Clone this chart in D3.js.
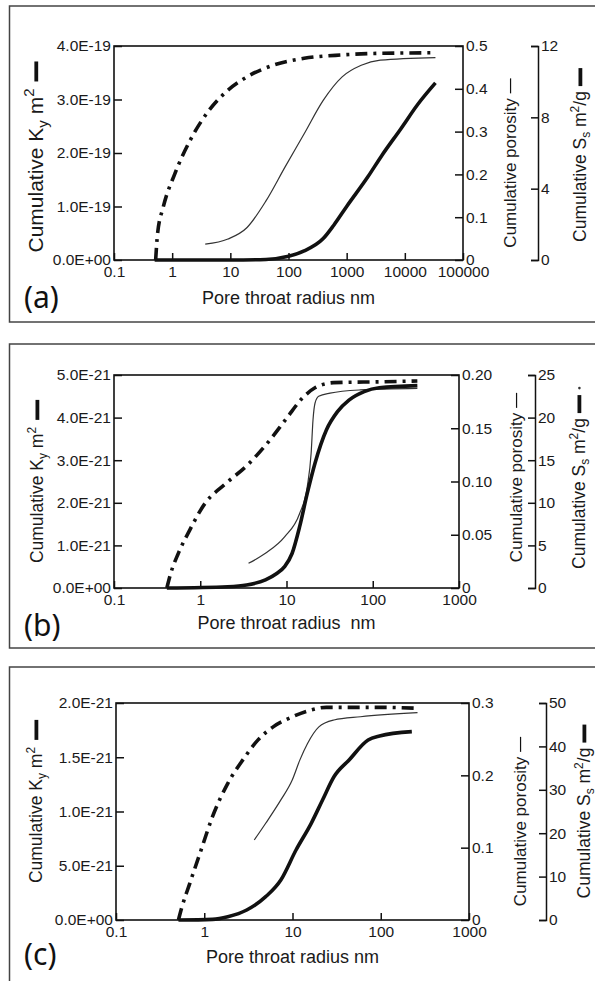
<!DOCTYPE html>
<html>
<head>
<meta charset="utf-8">
<title>Cumulative Ky, porosity and Ss vs pore throat radius</title>
<script src="https://cdn.jsdelivr.net/npm/d3@7"></script>
<style>
body { margin: 0; background: #fff; }
svg { display: block; }
.tick text { font: 15.5px "Liberation Sans", Arial, sans-serif; fill: #1a1a1a; }
.tick line, .domain { stroke: #111; stroke-width: 1.5px; }
.title { font: 17.5px "Liberation Sans", Arial, sans-serif; fill: #1a1a1a; }
.tag { font: 30px "Noto Sans", sans-serif; fill: #111; }
.frame { fill: none; stroke: #444; stroke-width: 1.5px; }
.box { fill: none; stroke: #111; stroke-width: 1.6px; }
.mark { stroke: #111; }
</style>
</head>
<body>
<svg width="595" height="981"></svg>
<script>

// ---- panel (a) ----
var xTicksA = [0.1, 1, 10, 100, 1000, 10000, 100000];
var xLabelsA = ["0.1", "1", "10", "100", "1000", "10000", "100000"];
var kyTicksA = [0, 1e-19, 2e-19, 3e-19, 4e-19];
var kyLabelsA = ["0.0E+00", "1.0E-19", "2.0E-19", "3.0E-19", "4.0E-19"];
var porTicksA = [0, 0.1, 0.2, 0.3, 0.4, 0.5];
var porLabelsA = ["0", "0.1", "0.2", "0.3", "0.4", "0.5"];
var ssTicksA = [0, 4, 8, 12];
// [radius nm, value]
var kyA = [[0.5,0],[10,0],[41,0.01e-19],[100,0.07e-19],[186,0.17e-19],[395,0.40e-19],[600,0.65e-19],[1000,1.0e-19],[2300,1.55e-19],[4000,1.95e-19],[8500,2.45e-19],[17000,2.92e-19],[33600,3.31e-19]];
var porA = [[3.7,0.037],[9.1,0.049],[19.4,0.076],[41,0.138],[87,0.217],[186,0.295],[395,0.373],[836,0.428],[1780,0.455],[3780,0.467],[33600,0.473]];
var ssA = [[0.52,0],[0.56,1.45],[0.70,2.95],[1.11,4.83],[2.03,6.70],[4.3,8.39],[9.1,9.52],[19.4,10.27],[55.6,10.93],[186,11.31],[836,11.5],[3780,11.59],[33600,11.62]];

// ---- panel (b) ----
var xTicksB = [0.1, 1, 10, 100, 1000];
var xLabelsB = ["0.1", "1", "10", "100", "1000"];
var kyTicksB = [0, 1e-21, 2e-21, 3e-21, 4e-21, 5e-21];
var kyLabelsB = ["0.0E+00", "1.0E-21", "2.0E-21", "3.0E-21", "4.0E-21", "5.0E-21"];
var porTicksB = [0, 0.05, 0.10, 0.15, 0.20];
var porLabelsB = ["0", "0.05", "0.10", "0.15", "0.20"];
var ssTicksB = [0, 5, 10, 15, 20, 25];
var kyB = [[0.41,0],[2.08,0.03e-21],[3.45,0.07e-21],[5.7,0.19e-21],[7.7,0.34e-21],[9.5,0.50e-21],[11.6,0.81e-21],[14.2,1.44e-21],[17.4,2.22e-21],[21.4,2.93e-21],[29,3.71e-21],[39,4.14e-21],[53,4.41e-21],[79.5,4.61e-21],[119,4.70e-21],[329,4.75e-21]];
var porB = [[3.63,0.0232],[5.7,0.0326],[9.5,0.048],[14.2,0.070],[17.4,0.095],[19.3,0.1265],[20.3,0.158],[21.4,0.1735],[23.6,0.180],[32,0.183],[71.8,0.186],[329,0.1875]];
var ssB = [[0.41,0],[0.455,1.73],[0.557,4.07],[0.755,6.8],[1.13,9.9],[2.0,12.3],[3.5,14.4],[6.0,17.0],[10,19.9],[15,22.2],[21.4,23.5],[35,24.1],[119,24.2],[329,24.3]];

// ---- panel (c) ----
var xTicksC = [0.1, 1, 10, 100, 1000];
var xLabelsC = ["0.1", "1", "10", "100", "1000"];
var kyTicksC = [0, 0.5e-21, 1e-21, 1.5e-21, 2e-21];
var kyLabelsC = ["0.0E+00", "5.0E-21", "1.0E-21", "1.5E-21", "2.0E-21"];
var porTicksC = [0, 0.1, 0.2, 0.3];
var porLabelsC = ["0", "0.1", "0.2", "0.3"];
var ssTicksC = [0, 10, 20, 30, 40, 50];
var kyC = [[0.51,0],[1.24,0.006e-21],[1.85,0.03e-21],[3.03,0.092e-21],[4.97,0.215e-21],[7.38,0.369e-21],[10.96,0.645e-21],[16.3,0.891e-21],[21.9,1.106e-21],[29.5,1.32e-21],[43.8,1.475e-21],[71.9,1.659e-21],[96.8,1.696e-21],[225,1.736e-21]];
var porC = [[3.69,0.1106],[4.97,0.1337],[7.38,0.166],[9.93,0.1935],[12.1,0.221],[14.8,0.244],[19.9,0.267],[29.5,0.2765],[59,0.281],[261,0.2866]];
var ssC = [[0.51,0],[0.56,3.07],[0.686,8.45],[0.92,16.1],[1.24,23.8],[1.85,31.5],[2.74,36.9],[4.07,41.5],[6.04,44.5],[9.93,46.8],[16.3,48.4],[24.2,49.0],[96.8,49.0],[261,48.8]];

var tags = ["(a)", "(b)", "(c)"];
var xTitles = ["Pore throat radius nm", "Pore throat radius \u00a0nm", "Pore throat radius nm"];

var svg = d3.select("svg");

// layout per panel
var panels = [
  { frameTop: 6, frameBottom: 322, left: 114, right: 463, top: 46, bottom: 260, ssX: 538,
    xTicks: xTicksA, xLabels: xLabelsA, kyTicks: kyTicksA, kyLabels: kyLabelsA,
    porTicks: porTicksA, porLabels: porLabelsA, ssTicks: ssTicksA,
    ky: kyA, por: porA, ss: ssA,
    kyT: [43, 4, 21], porT: [516, 10], ssT: [586, 2], xTitleY: 304, tagY: 308, ssDot: false },
  { frameTop: 344, frameBottom: 648, left: 114, right: 459, top: 375, bottom: 588, ssX: 535,
    xTicks: xTicksB, xLabels: xLabelsB, kyTicks: kyTicksB, kyLabels: kyLabelsB,
    porTicks: porTicksB, porLabels: porLabelsB, ssTicks: ssTicksB,
    ky: kyB, por: porB, ss: ssB,
    kyT: [43, 0, 17.5], porT: [522, -4], ssT: [585, -4], xTitleY: 629, tagY: 636, ssDot: true },
  { frameTop: 667, frameBottom: 1000, left: 116, right: 469, top: 703, bottom: 920, ssX: 546,
    xTicks: xTicksC, xLabels: xLabelsC, kyTicks: kyTicksC, kyLabels: kyLabelsC,
    porTicks: porTicksC, porLabels: porLabelsC, ssTicks: ssTicksC,
    ky: kyC, por: porC, ss: ssC,
    kyT: [42, -10, 17.5], porT: [526, 10], ssT: [590, 0], xTitleY: 963, tagY: 965, ssDot: false }
];

// rotated axis title with a little line sample after it
function vtitle(g, x, cy, parts, size, markW, markLen, gap, dot) {
  var t = g.append("g").attr("transform", "translate(" + x + "," + cy + ") rotate(-90)");
  var txt = t.append("text").attr("class", "title").style("font-size", size + "px");
  var small = Math.round(size * 0.7);
  parts.forEach(function(pt) {
    var s = txt.append("tspan").text(pt.t);
    if (pt.sub) s.attr("dy", size * 0.25).style("font-size", small + "px");
    if (pt.sup) s.attr("dy", -size * 0.42).style("font-size", small + "px");
    if (pt.back) s.attr("dy", pt.back * size);
  });
  var len = txt.node().getComputedTextLength();
  var extra = dot ? 9 : 0;
  var total = len + gap + markLen + extra;
  txt.attr("x", -total / 2);
  var x0 = -total / 2 + len + gap;
  var my = -size * 0.32;
  t.append("line").attr("class", "mark")
      .attr("x1", x0).attr("x2", x0 + markLen)
      .attr("y1", my).attr("y2", my)
      .style("stroke-width", markW);
  if (dot) {
    t.append("circle").attr("cx", x0 + markLen + 7).attr("cy", my).attr("r", 1.3).attr("fill", "#333");
  }
}

panels.forEach(function(p, k) {
  var g = svg.append("g");

  g.append("rect").attr("class", "frame")
      .attr("x", 9.5).attr("y", p.frameTop)
      .attr("width", 600).attr("height", p.frameBottom - p.frameTop);

  var x = d3.scaleLog().domain([p.xTicks[0], p.xTicks[p.xTicks.length - 1]]).range([p.left, p.right]);
  var yK = d3.scaleLinear().domain([0, d3.max(p.kyTicks)]).range([p.bottom, p.top]);
  var yP = d3.scaleLinear().domain([0, d3.max(p.porTicks)]).range([p.bottom, p.top]);
  var yS = d3.scaleLinear().domain([0, d3.max(p.ssTicks)]).range([p.bottom, p.top]);

  var ax = g.append("g").attr("transform", "translate(0," + p.bottom + ")")
      .call(d3.axisBottom(x).tickValues(p.xTicks)
        .tickFormat(function(d, i) { return p.xLabels[i]; })
        .tickSizeInner(-7).tickSizeOuter(0).tickPadding(6));
  ax.select(".domain").remove();

  var al = g.append("g").attr("transform", "translate(" + p.left + ",0)")
      .call(d3.axisLeft(yK).tickValues(p.kyTicks)
        .tickFormat(function(d, i) { return p.kyLabels[i]; })
        .tickSizeInner(-8).tickSizeOuter(0).tickPadding(3));
  al.select(".domain").remove();

  var ar = g.append("g").attr("transform", "translate(" + p.right + ",0)")
      .call(d3.axisRight(yP).tickValues(p.porTicks)
        .tickFormat(function(d, i) { return p.porLabels[i]; })
        .tickSizeInner(-8).tickSizeOuter(0).tickPadding(3));
  ar.select(".domain").remove();

  g.append("g").attr("transform", "translate(" + p.ssX + ",0)")
      .call(d3.axisRight(yS).tickValues(p.ssTicks)
        .tickSizeInner(-7).tickSizeOuter(-7).tickPadding(3));

  g.append("rect").attr("class", "box")
      .attr("x", p.left).attr("y", p.top)
      .attr("width", p.right - p.left).attr("height", p.bottom - p.top);

  var lineK = d3.line().x(function(d) { return x(d[0]); }).y(function(d) { return yK(d[1]); }).curve(d3.curveMonotoneX);
  var lineP = d3.line().x(function(d) { return x(d[0]); }).y(function(d) { return yP(d[1]); }).curve(d3.curveMonotoneX);
  var lineS = d3.line().x(function(d) { return x(d[0]); }).y(function(d) { return yS(d[1]); }).curve(d3.curveMonotoneX);

  g.append("path").attr("d", lineP(p.por))
      .attr("fill", "none").attr("stroke", "#333").attr("stroke-width", 1.2);
  g.append("path").attr("d", lineK(p.ky))
      .attr("fill", "none").attr("stroke", "#111").attr("stroke-width", 3.6);
  g.append("path").attr("d", lineS(p.ss))
      .attr("fill", "none").attr("stroke", "#111").attr("stroke-width", 3.6)
      .attr("stroke-dasharray", "12,6,3,6");

  var cy = (p.top + p.bottom) / 2;
  vtitle(g, p.kyT[0], cy + p.kyT[1],
    [{t: "Cumulative K"}, {t: "y", sub: true}, {t: " m", back: -0.25}, {t: "2", sup: true}],
    p.kyT[2], 3.8, 20, 7, false);
  vtitle(g, p.porT[0], cy + p.porT[1], [{t: "Cumulative porosity"}], 17, 1.2, 15, 5, false);
  vtitle(g, p.ssT[0], cy + p.ssT[1],
    [{t: "Cumulative S"}, {t: "s", sub: true}, {t: "  m", back: -0.25}, {t: "2", sup: true}, {t: "/g", back: 0.42}],
    17.5, 3.8, 18, 5, p.ssDot);

  g.append("text").attr("class", "title")
      .attr("x", (p.left + p.right) / 2).attr("y", p.xTitleY)
      .attr("text-anchor", "middle")
      .style("font-size", "18px")
      .text(xTitles[k]);

  g.append("text").attr("class", "tag")
      .attr("x", 24).attr("y", p.tagY)
      .text(tags[k]);
});

</script>
</body>
</html>
